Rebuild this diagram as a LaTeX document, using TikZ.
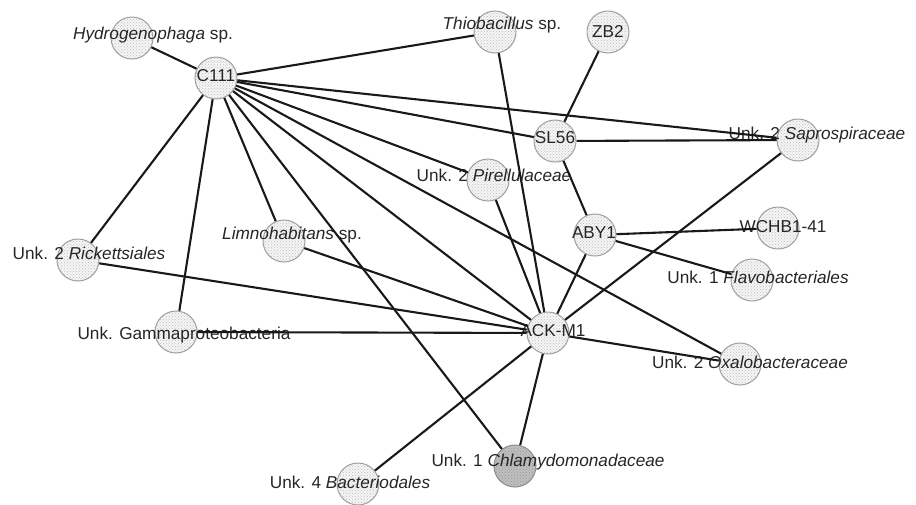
\documentclass[tikz,border=0pt]{standalone}
\usepackage{fontspec}
\setmainfont{Liberation Sans}
\usepackage{tikz}
\usetikzlibrary{patterns}

\begin{document}
\begin{tikzpicture}[x=1pt,y=1pt]
        \tikzstyle{every node}+=[inner sep=0pt]
        \tikzstyle{site}=[circle, draw=gray!75, line width=1pt, minimum size=42pt, preaction={fill=gray!8}, pattern=crosshatch dots, pattern color=gray!50]
        \tikzstyle{algae}=[site, draw=gray!90, preaction={fill=gray!50}, pattern color=gray!80]
        \tikzstyle{txt}=[font=\fontsize{17.2}{20}\selectfont, text=black!85]
        \tikzstyle{link}=[black!90, line width=2.1pt]
        \useasboundingbox (0,0) rectangle (916,-504);
        \node [site] (hydro) at (132,-38) {};
        \node [site] (c111) at (216,-78) {};
        \node [site] (thio) at (495,-32) {};
        \node [site] (zb2) at (608,-32) {};
        \node [site] (sl56) at (555,-141) {};
        \node [site] (pirel) at (488,-180) {};
        \node [site] (sapro) at (798,-140) {};
        \node [site] (wchb) at (778,-228) {};
        \node [site] (flavo) at (752,-280) {};
        \node [site] (aby1) at (595,-235) {};
        \node [site] (ackm1) at (548,-333) {};
        \node [site] (oxalo) at (740,-364) {};
        \node [algae] (chlamy) at (515,-466) {};
        \node [site] (bacter) at (358,-484) {};
        \node [site] (ricket) at (78,-260) {};
        \node [site] (limno) at (284,-241) {};
        \node [site] (gamma) at (176,-332) {};
        \node [txt] (hydrotxt) at (153,-35) {\textit{Hydrogenophaga} sp.};
        \node [txt] (c111txt) at (216,-76) {C111};
        \node [txt] (thiotxt) at (502,-25) {\textit{Thiobacillus} sp.};
        \node [txt] (zb2txt) at (608,-31) {ZB2};
        \node [txt] (sl56txt) at (555,-138) {SL56};
        \node [txt] (pireltxt) at (494,-175) {Unk. 2 \textit{Pirellulaceae}};
        \node [txt] (saprotxt) at (817,-135) {Unk. 2 \textit{Saprospiraceae}};
        \node [txt] (wchbtxt) at (783,-227) {WCHB1-41};
        \node [txt] (flavotxt) at (758,-277) {Unk. 1 \textit{Flavobacteriales}};
        \node [txt] (aby1txt) at (594,-233) {ABY1};
        \node [txt] (ackm1txt) at (553,-331) {ACK-M1};
        \node [txt] (oxalotxt) at (750,-362) {Unk. 2 \textit{Oxalobacteraceae}};
        \node [txt] (chlamytxt) at (548,-462) {Unk. 1 \textit{Chlamydomonadaceae}};
        \node [txt] (bactertxt) at (350,-482) {Unk. 4 \textit{Bacteriodales}};
        \node [txt] (rickettxt) at (89,-253) {Unk. 2 \textit{Rickettsiales}};
        \node [txt] (limnotxt) at (292,-235) {\textit{Limnohabitans} sp.};
        \node [txt] (gammatxt) at (184,-335) {Unk. Gammaproteobacteria};
        \draw [link] (c111) -- (hydro);
        \draw [link] (c111) -- (thio);
        \draw [link] (c111) -- (sapro);
        \draw [link] (c111) -- (sl56);
        \draw [link] (c111) -- (pirel);
        \draw [link] (c111) -- (oxalo);
        \draw [link] (c111) -- (ackm1);
        \draw [link] (c111) -- (chlamy);
        \draw [link] (c111) -- (limno);
        \draw [link] (c111) -- (gamma);
        \draw [link] (c111) -- (ricket);
        \draw [link] (ackm1) -- (ricket);
        \draw [link] (ackm1) -- (gamma);
        \draw [link] (ackm1) -- (limno);
        \draw [link] (ackm1) -- (pirel);
        \draw [link] (ackm1) -- (thio);
        \draw [link] (ackm1) -- (aby1);
        \draw [link] (ackm1) -- (sapro);
        \draw [link] (ackm1) -- (oxalo);
        \draw [link] (ackm1) -- (bacter);
        \draw [link] (ackm1) -- (chlamy);
        \draw [link] (zb2) -- (sl56);
        \draw [link] (sl56) -- (sapro);
        \draw [link] (sl56) -- (aby1);
        \draw [link] (aby1) -- (wchb);
        \draw [link] (aby1) -- (flavo);
      \end{tikzpicture}
\end{document}
